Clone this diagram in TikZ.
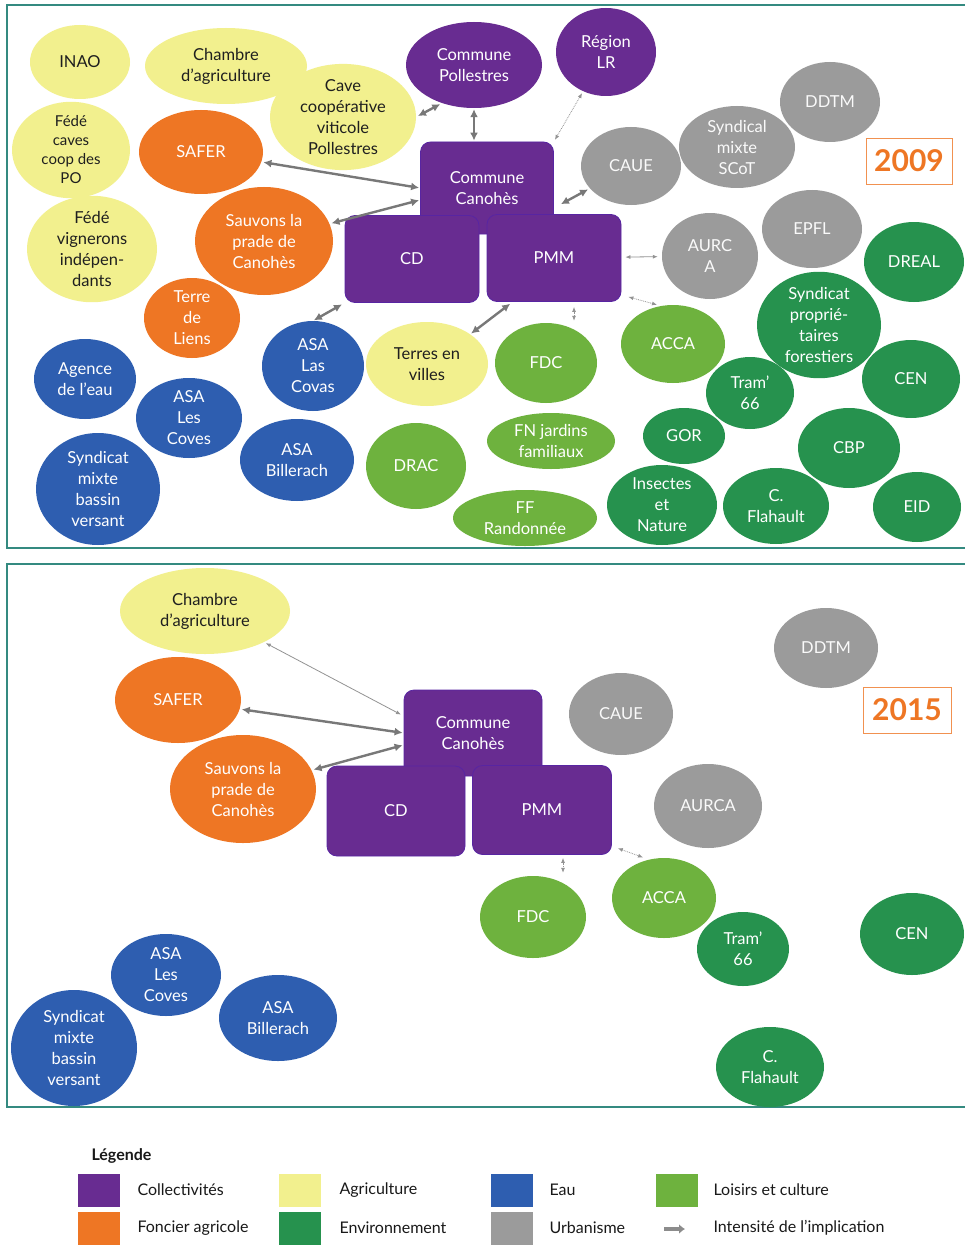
\documentclass[tikz,border=0pt]{standalone}
\usepackage{fontspec}
\setmainfont{Lato}
\usetikzlibrary{shapes.geometric,arrows.meta,calc}
\definecolor{cpurple}{RGB}{104,44,145}
\definecolor{corange}{RGB}{238,118,36}
\definecolor{cyellow}{RGB}{242,240,142}
\definecolor{cblue}{RGB}{46,94,176}
\definecolor{cgray}{RGB}{155,155,155}
\definecolor{cenv}{RGB}{38,146,78}
\definecolor{cleis}{RGB}{110,178,62}
\definecolor{carrow}{RGB}{120,120,120}
\definecolor{cframe}{RGB}{52,138,128}
\tikzset{
  sz/.style 2 args={minimum width=#1pt, minimum height=#2pt},
  org/.style={ellipse, inner sep=0pt, align=center, text=white, font=\fontsize{16.5}{21}\selectfont},
  coll/.style={org, fill=cpurple},
  fonc/.style={org, fill=corange},
  agri/.style={org, fill=cyellow, text=black!88},
  eau/.style={org, fill=cblue},
  urb/.style={org, fill=cgray, text=white!96!gray},
  envi/.style={org, fill=cenv},
  leis/.style={org, fill=cleis},
  inst/.style={rectangle, rounded corners=10pt, fill=cpurple, draw=cpurple!85!blue, line width=0.8pt,
    text=white, align=center, font=\fontsize{16.5}{21}\selectfont, inner sep=0pt},
  bigarr/.style={draw=carrow, line width=2.4pt, arrows={Latex[length=8pt,width=8pt]-Latex[length=8pt,width=8pt]}},
  thinarr/.style={draw=carrow!80, line width=0.8pt, arrows={Latex[length=5pt,width=4pt]-Latex[length=5pt,width=4pt]}},
  dotarr/.style={thinarr, densely dotted},
  frame/.style={draw=cframe, line width=1.4pt},
  yearbox/.style={draw=corange!80, line width=0.8pt, fill=white, text=corange, font=\bfseries\fontsize{30}{30}\selectfont},
  legsq/.style={rectangle, minimum width=42pt, minimum height=33pt, inner sep=0pt},
  legtxt/.style={anchor=west, font=\fontsize{16}{18}\selectfont, text=black!90},
}
\begin{document}
\begin{tikzpicture}[x=1pt,y=-1pt]
\useasboundingbox (0,0) rectangle (964,1252);
\fill[white] (0,0) rectangle (964,1252);

% ---------------- 2009 panel ----------------
\draw[frame] (7,5) rectangle (975,548);

\node[agri, sz={100}{74}] (inao) at (80,62) {INAO};
\node[agri, sz={162}{76}] (cha) at (226,66) {Chambre\\d’agriculture};
\node[agri, sz={146}{96}] (cave) at (343,117) {Cave\\coopérative\\viticole\\Pollestres};
\node[agri, sz={118}{94}, font=\fontsize{15}{19}\selectfont] (fcc) at (71,150) {Fédé\\caves\\coop des\\PO};
\node[agri, sz={130}{102}] (fvi) at (92,249) {Fédé\\vignerons\\indépen-\\dants};
\node[fonc, sz={124}{84}] (saf) at (201,152) {SAFER};
\node[fonc, sz={138}{108}] (sauv) at (264,241) {Sauvons la\\prade de\\Canohès};
\node[fonc, sz={96}{80}] (tdl) at (192,318) {Terre\\de\\Liens};

\node[coll, sz={136}{86}] (cp) at (474,65) {Commune\\Pollestres};
\node[coll, sz={100}{88}] (reg) at (606,52) {Région\\LR};

\node[inst, minimum width=133pt, minimum height=92pt] (cc) at (487,188) {Commune\\Canohès};
\node[inst, minimum width=134pt, minimum height=87pt] (cd) at (412,259) {CD};
\node[inst, minimum width=134pt, minimum height=87pt] (pmm) at (554,258) {PMM};

\node[urb, sz={100}{78}] (caue) at (631,166) {CAUE};
\node[urb, sz={116}{82}] (scot) at (737,147) {Syndical\\mixte\\SCoT};
\node[urb, sz={100}{80}] (ddtm) at (830,102) {DDTM};
\node[urb, sz={96}{86}] (aurc) at (710,256) {AURC\\A};
\node[urb, sz={100}{78}] (epfl) at (812,229) {EPFL};

\node[yearbox, minimum width=86pt, minimum height=46pt] (y9) at (909,161) {2009};

\node[envi, sz={100}{80}] (dreal) at (914,262) {DREAL};
\node[envi, sz={124}{98}] (spf) at (819,325) {Syndicat\\proprié-\\taires\\forestiers};
\node[leis, sz={104}{78}] (acca) at (673,344) {ACCA};
\node[leis, sz={102}{80}] (fdc) at (546,363) {FDC};
\node[agri, sz={122}{84}] (tev) at (427,364) {Terres en\\villes};
\node[eau, sz={102}{90}] (lasc) at (313,366) {ASA\\Las\\Covas};
\node[eau, sz={102}{80}] (age) at (85,379) {Agence\\de l’eau};
\node[eau, sz={106}{80}] (lesc) at (189,418) {ASA\\Les\\Coves};
\node[eau, sz={114}{82}] (bill) at (297,460) {ASA\\Billerach};
\node[eau, sz={124}{112}] (smbv) at (98,489) {Syndicat\\mixte\\bassin\\versant};
\node[leis, sz={100}{86}] (drac) at (416,466) {DRAC};
\node[leis, sz={128}{56}] (fnj) at (551,441) {FN jardins\\familiaux};
\node[leis, sz={144}{56}] (ffr) at (525,518) {FF\\Randonnée};
\node[envi, sz={88}{72}] (tram) at (750,393) {Tram’\\66};
\node[envi, sz={82}{56}] (gor) at (684,436) {GOR};
\node[envi, sz={110}{80}] (ins) at (662,505) {Insectes\\et\\Nature};
\node[envi, sz={106}{76}] (cfl) at (776,506) {C.\\Flahault};
\node[envi, sz={98}{78}] (cen) at (911,379) {CEN};
\node[envi, sz={102}{80}] (cbp) at (849,448) {CBP};
\node[envi, sz={88}{70}] (eid) at (917,507) {EID};

% connectors 2009
\draw[bigarr, shorten <=2pt, shorten >=2pt] (cave.east) -- (cp.230);
\draw[bigarr, shorten <=1pt, shorten >=1pt] (cp) -- (cp |- cc.north);
\draw[bigarr, shorten <=2pt, shorten >=1pt] (saf) -- (cc.west);
\draw[bigarr, shorten <=2pt, shorten >=1pt] (sauv) -- ([yshift=-12pt]cc.west);
\draw[dotarr, shorten <=2pt, shorten >=2pt] (reg) -- (cc.north east);
\draw[bigarr, shorten <=2pt, shorten >=8pt] (caue) -- ([yshift=-20pt]cc.east);
\draw[thinarr, shorten <=4pt, shorten >=4pt] (pmm) -- (aurc);
\draw[dotarr] ([shift={(7,-5)}]pmm.south east) -- ([xshift=-16pt]acca.north);
\draw[dotarr, shorten <=5pt, shorten >=2pt] ([xshift=20pt]pmm.south) -- ([xshift=28pt]fdc.north);
\draw[bigarr, shorten <=3pt, shorten >=1pt] (cd.south west) -- (lasc.north);
\draw[bigarr, shorten <=3pt, shorten >=1pt] ([xshift=26pt]pmm.south west) -- (tev.north east);

% ---------------- 2015 panel ----------------
\draw[frame] (7,564) rectangle (975,1107);

\node[agri, sz={170}{86}] (cha2) at (205,611) {Chambre\\d’agriculture};
\node[fonc, sz={126}{86}] (saf2) at (178,700) {SAFER};
\node[fonc, sz={146}{108}] (sauv2) at (243,789) {Sauvons la\\prade de\\Canohès};
\node[inst, minimum width=138pt, minimum height=86pt] (cc2) at (473,733) {Commune\\Canohès};
\node[inst, minimum width=138pt, minimum height=90pt] (cd2) at (396,811) {CD};
\node[inst, minimum width=139pt, minimum height=89pt] (pmm2) at (542,810) {PMM};
\node[urb, sz={104}{82}] (caue2) at (621,714) {CAUE};
\node[urb, sz={104}{80}] (ddtm2) at (826,648) {DDTM};
\node[urb, sz={108}{84}] (aurca2) at (708,806) {AURCA};
\node[yearbox, minimum width=88pt, minimum height=46pt] (y15) at (907,710) {2015};
\node[leis, sz={106}{82}] (fdc2) at (533,917) {FDC};
\node[envi, sz={92}{74}] (tram2) at (743,949) {Tram’\\66};
\node[leis, sz={104}{80}] (acca2) at (664,898) {ACCA};
\node[envi, sz={104}{82}] (cen2) at (912,934) {CEN};
\node[envi, sz={108}{80}] (cfl2) at (770,1067) {C.\\Flahault};
\node[eau, sz={110}{82}] (lesc2) at (166,975) {ASA\\Les\\Coves};
\node[eau, sz={118}{86}] (bill2) at (278,1018) {ASA\\Billerach};
\node[eau, sz={126}{116}] (smbv2) at (74,1048) {Syndicat\\mixte\\bassin\\versant};

% connectors 2015
\draw[thinarr, shorten <=2pt, shorten >=3pt] (cha2) -- ([yshift=17pt]cc2.west);
\draw[bigarr, shorten <=2pt, shorten >=1pt] (saf2) -- (cc2.west);
\draw[bigarr, shorten <=2pt, shorten >=1pt] (sauv2) -- ([yshift=-12pt]cc2.west);
\draw[dotarr, shorten <=3pt, shorten >=3pt] ([xshift=21pt]pmm2.south) -- ([xshift=30pt]fdc2.north);
\draw[dotarr, shorten <=1pt, shorten >=1pt] ([shift={(5,-7)}]pmm2.south east) -- ([xshift=-20pt]acca2.north);

% ---------------- legend ----------------
\node[anchor=west, font=\bfseries\fontsize{16}{18}\selectfont, text=black!90] (leg) at (88,1156) {Légende};
\node[legsq, fill=cpurple] (l1) at (99,1190) {};
\node[legtxt] (t1) at (134,1190) {Collectivités};
\node[legsq, fill=corange] (l2) at (99,1228) {};
\node[legtxt] (t2) at (134,1228) {Foncier agricole};
\node[legsq, fill=cyellow] (l3) at (300,1190) {};
\node[legtxt] (t3) at (336,1190) {Agriculture};
\node[legsq, fill=cenv] (l4) at (300,1228) {};
\node[legtxt] (t4) at (336,1228) {Environnement};
\node[legsq, fill=cblue] (l5) at (512,1190) {};
\node[legtxt] (t5) at (546,1190) {Eau};
\node[legsq, fill=cgray] (l6) at (512,1228) {};
\node[legtxt] (t6) at (546,1228) {Urbanisme};
\node[legsq, fill=cleis] (l7) at (677,1190) {};
\node[legtxt] (t7) at (710,1190) {Loisirs et culture};
\coordinate (la1) at (664,1229);
\coordinate (la2) at (685,1229);
\draw[draw=carrow!85, line width=4pt, arrows={-Latex[length=6pt,width=10pt]}] (la1) -- (la2);
\node[legtxt] (t8) at (710,1228) {Intensité de l’implication};
\end{tikzpicture}
\end{document}
